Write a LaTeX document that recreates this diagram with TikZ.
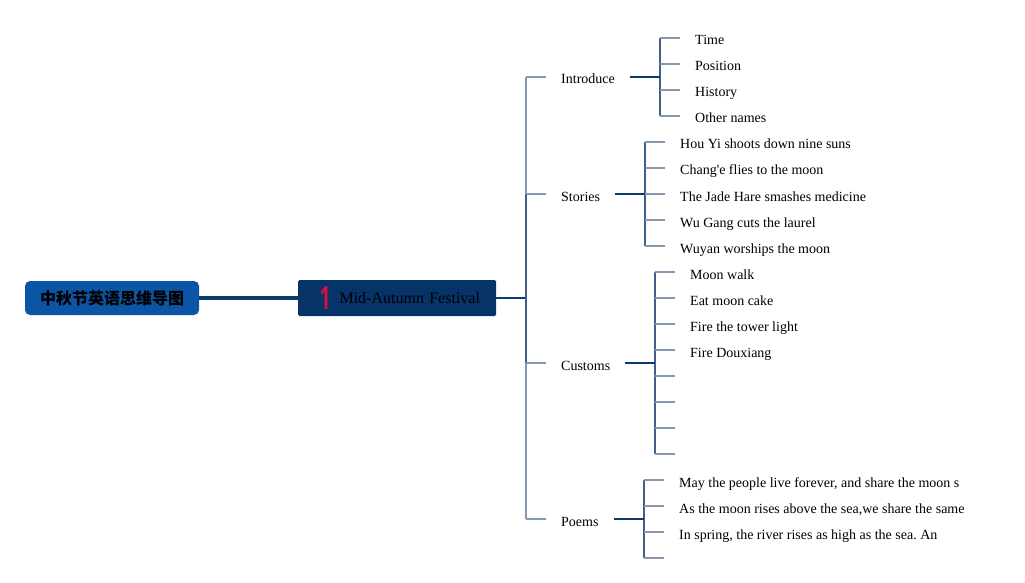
\documentclass[tikz,border=0pt]{standalone}
\usepackage{fontspec}
\setmainfont{Liberation Serif}
\newfontfamily\cjk{Noto Sans CJK SC}
\newfontfamily\badgefont{Open Sans}
\usetikzlibrary{positioning}
\frenchspacing

\definecolor{rootblue}{HTML}{0B55A4}
\definecolor{mainnavy}{HTML}{063468}
\definecolor{linkdark}{HTML}{0D3B69}
\definecolor{linkmid}{HTML}{3F6088}
\definecolor{linklight}{HTML}{8499B1}
\definecolor{badgered}{HTML}{D4123B}

\begin{document}
\begin{tikzpicture}[x=1pt, y=-1pt,
    root/.style = {fill=rootblue, rounded corners=5pt, minimum width=174pt, minimum height=34pt, inner sep=0pt, font=\cjk\bfseries\fontsize{16}{18}\selectfont},
    topic/.style = {fill=mainnavy, rounded corners=1.5pt, minimum height=36pt, inner xsep=16pt, text width=166pt, align=right, font=\fontsize{16}{18}\selectfont},
    badge/.style = {text=badgered, inner sep=0pt, font=\badgefont\bfseries\fontsize{32}{32}\selectfont},
    cat/.style = {anchor=west, inner xsep=15pt, inner ysep=2pt, text height=14pt, text depth=0pt, font=\fontsize{14}{16}\selectfont},
    leaf/.style = {anchor=west, inner xsep=15pt, inner ysep=2pt, text height=14pt, text depth=0pt, font=\fontsize{14}{16}\selectfont},
    mainlink/.style = {draw=linkdark, line width=4pt},
    stub/.style = {draw=linkdark, line width=2pt},
    bar/.style = {draw=linkmid, line width=1.8pt},
    tick/.style = {draw=linklight, line width=1.5pt}]
    \useasboundingbox (0,0) rectangle (1025,583);

    % centre
    \node[root] (root) at (112,298) {中秋节英语思维导图};
    \node[topic] (festival) at (397,298) {Mid-Autumn Festival};
    \node[badge] (badge) at (325,298) {\scalebox{0.6}[1]{1}};
    \coordinate (spine) at (526,298);

    % main branches
    \node[cat] (introduce) at (546,77) {Introduce};
    \node[cat] (stories) at (546,194) {Stories};
    \node[cat] (customs) at (546,363) {Customs};
    \node[cat] (poems) at (546,519) {Poems};

    \coordinate (jintro) at (660,77);
    \coordinate (jstory) at (645,194);
    \coordinate (jcustom) at (655,363);
    \coordinate (jpoem) at (644,519);

    % Introduce
    \node[leaf] (time) at (680,38) {Time};
    \node[leaf] (position) at (680,64) {Position};
    \node[leaf] (history) at (680,90) {History};
    \node[leaf] (othernames) at (680,116) {Other names};

    % Stories
    \node[leaf] (houyi) at (665,142) {Hou Yi shoots down nine suns};
    \node[leaf] (change) at (665,168) {Chang\textquotesingle e flies to the moon};
    \node[leaf] (jadehare) at (665,194) {The Jade Hare smashes medicine};
    \node[leaf] (wugang) at (665,220) {Wu Gang cuts the laurel};
    \node[leaf] (wuyan) at (665,246) {Wuyan worships the moon};

    % Customs
    \node[leaf] (moonwalk) at (675,272) {Moon walk};
    \node[leaf] (mooncake) at (675,298) {Eat moon cake};
    \node[leaf] (towerlight) at (675,324) {Fire the tower light};
    \node[leaf] (douxiang) at (675,350) {Fire Douxiang};
    \coordinate (custom5) at (675,376);
    \coordinate (custom6) at (675,402);
    \coordinate (custom7) at (675,428);
    \coordinate (custom8) at (675,454);

    % Poems
    \node[leaf] (poem1) at (664,480) {May the people live forever, and share the moon s};
    \node[leaf] (poem2) at (664,506) {As the moon rises above the sea,we share the same};
    \node[leaf] (poem3) at (664,532) {In spring, the river rises as high as the sea. An};
    \coordinate (poem4) at (664,558);

    % connectors
    \draw[mainlink] (root) -- (festival);
    \draw[stub] (festival) -- (spine);
    \draw[tick] (spine |- introduce.west) -- (spine |- poems.west);
    \draw[bar] (spine |- stories.west) -- (spine |- customs.west);
    \foreach \c in {introduce,stories,customs,poems}
        \draw[tick] (\c.west) -- (\c.west -| spine);

    \draw[bar] (jintro |- time.west) -- (jintro |- othernames.west);
    \draw[stub] (introduce.east) -- (jintro);
    \foreach \n in {time,position,history,othernames}
        \draw[tick] (\n.west) -- (\n.west -| jintro);

    \draw[bar] (jstory |- houyi.west) -- (jstory |- wuyan.west);
    \draw[stub] (stories.east) -- (jstory);
    \foreach \n in {houyi,change,jadehare,wugang,wuyan}
        \draw[tick] (\n.west) -- (\n.west -| jstory);

    \draw[bar] (jcustom |- moonwalk.west) -- (jcustom |- custom8);
    \draw[stub] (customs.east) -- (jcustom);
    \foreach \n in {moonwalk.west,mooncake.west,towerlight.west,douxiang.west,custom5,custom6,custom7,custom8}
        \draw[tick] (\n) -- (\n -| jcustom);

    \draw[bar] (jpoem |- poem1.west) -- (jpoem |- poem4);
    \draw[stub] (poems.east) -- (jpoem);
    \foreach \n in {poem1.west,poem2.west,poem3.west,poem4}
        \draw[tick] (\n) -- (\n -| jpoem);
\end{tikzpicture}
\end{document}
